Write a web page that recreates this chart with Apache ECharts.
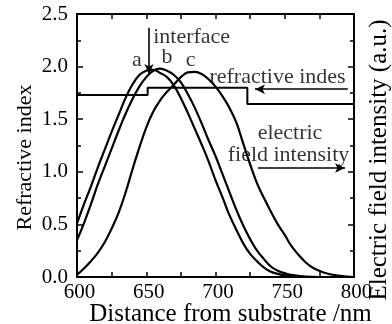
<!DOCTYPE html>
<html>
<head>
<meta charset="utf-8">
<script src="https://cdn.jsdelivr.net/npm/echarts@6/dist/echarts.min.js"></script>
<style>html,body{margin:0;padding:0;background:#fff;}#c{width:392px;height:324px;}</style>
</head>
<body>
<div id="c"></div>
<script>
// ---- data ----
const curveA = [[600,0.51],[605,0.69],[610,0.86],[615,1.04],[620,1.21],[625,1.38],[630,1.54],[635,1.70],[640,1.83],[645,1.92],[650,1.96],[655,1.97],[660,1.94],[665,1.90],[670,1.82],[675,1.70],[680,1.56],[685,1.41],[690,1.26],[695,1.10],[700,0.92],[705,0.76],[710,0.59],[715,0.45],[720,0.32],[725,0.22],[730,0.15],[735,0.09],[740,0.05],[745,0.03],[750,0.015],[755,0.006],[760,0.002],[770,0],[800,0]];
const curveB = [[600,0.35],[605,0.51],[610,0.69],[615,0.88],[620,1.05],[625,1.22],[630,1.39],[635,1.55],[640,1.69],[645,1.81],[650,1.90],[655,1.96],[660,1.98],[665,1.96],[670,1.92],[675,1.85],[680,1.74],[685,1.61],[690,1.46],[695,1.30],[700,1.15],[705,0.98],[710,0.81],[715,0.64],[720,0.49],[725,0.36],[730,0.25],[735,0.17],[740,0.10],[745,0.06],[750,0.035],[755,0.02],[760,0.01],[765,0.003],[775,0],[800,0]];
const curveC = [[600,0.02],[605,0.08],[610,0.15],[615,0.23],[620,0.33],[625,0.46],[630,0.61],[635,0.80],[640,1.02],[645,1.23],[650,1.42],[655,1.57],[660,1.68],[665,1.76],[670,1.83],[675,1.90],[680,1.945],[685,1.95],[690,1.93],[695,1.88],[700,1.81],[705,1.72],[710,1.61],[715,1.47],[720,1.27],[725,1.07],[730,0.89],[735,0.75],[740,0.62],[745,0.50],[750,0.40],[755,0.29],[760,0.21],[765,0.14],[770,0.09],[775,0.06],[780,0.035],[785,0.02],[790,0.01],[795,0.004],[800,0]];
const refIndexX = [600, 651, 651, 723, 723, 800];
const refIndexY = [1.73, 1.73, 1.80, 1.80, 1.645, 1.645];
const xTicks = [600, 650, 700, 750, 800];
const yTicks = [0.0, 0.5, 1.0, 1.5, 2.0, 2.5];
const curveLabels = [[643.3, 2.06, 'a'], [665, 2.09, 'b'], [682, 2.06, 'c']];
const textNotes = [[655, 2.28, 'interface', 'left'], [744.8, 1.90, 'refractive indes', 'center'], [753.8, 1.37, 'electric', 'center'], [752.7, 1.16, 'field intensity', 'center']];
const arrows = [[[652, 2.37], [652, 1.93]], [[795.5, 1.785], [728.5, 1.785]], [[730.7, 1.036], [793.5, 1.036]]];

const FONT = 'Liberation Serif';
const chart = echarts.init(document.getElementById('c'), null, {renderer: 'canvas'});
const axisCommon = {
  type: 'value',
  nameMoveOverlap: false,
  splitLine: {show: false},
  axisLine: {show: true, onZero: false, lineStyle: {color: '#000', width: 2}},
  axisTick: {show: true, inside: true, length: 6, lineStyle: {color: '#000', width: 1.5}},
  minorTick: {show: true, splitNumber: 2, length: 4, lineStyle: {color: '#000', width: 1.5}},
};
const lineSeries = (data) => ({
  type: 'line', data: data, smooth: 0.4, symbol: 'none', xAxisIndex: 0, yAxisIndex: 0,
  lineStyle: {color: '#000', width: 2.2}, z: 3
});
const option = {
  backgroundColor: '#fff',
  animation: false,
  grid: {left: 77, right: 38, top: 14, bottom: 47, containLabel: false, outerBoundsMode: 'none'},
  xAxis: [
    Object.assign({}, axisCommon, {
      position: 'bottom', min: xTicks[0], max: xTicks[xTicks.length-1], interval: 50,
      axisTick: Object.assign({}, axisCommon.axisTick, {length: 5}),
      minorTick: Object.assign({}, axisCommon.minorTick, {length: 5}),
      axisLabel: {color: '#000', fontFamily: FONT, fontSize: 21, margin: 5, padding: [0, 0, 0, 5]},
      name: 'Distance from substrate /nm', nameLocation: 'middle', nameGap: 25,
      nameTextStyle: {color: '#000', fontFamily: FONT, fontSize: 25, padding: [0, 0, 0, 30]}
    }),
    Object.assign({}, axisCommon, {
      position: 'top', min: xTicks[0], max: xTicks[xTicks.length-1], interval: 50,
      axisTick: Object.assign({}, axisCommon.axisTick, {length: 5}),
      minorTick: Object.assign({}, axisCommon.minorTick, {length: 5}),
      axisLabel: {show: false}
    })
  ],
  yAxis: [
    Object.assign({}, axisCommon, {
      position: 'left', min: yTicks[0], max: yTicks[yTicks.length-1], interval: 0.5,
      axisLabel: {color: '#000', fontFamily: FONT, fontSize: 21, margin: 9, formatter: v => v.toFixed(1)},
      name: 'Refractive index', nameLocation: 'middle', nameGap: 41,
      nameTextStyle: {color: '#000', fontFamily: FONT, fontSize: 22, padding: [0, 24, 0, 0]}
    }),
    Object.assign({}, axisCommon, {
      position: 'right', min: yTicks[0], max: yTicks[yTicks.length-1], interval: 0.5,
      axisLabel: {show: false},
      name: 'Electric field intensity (a.u.)', nameLocation: 'middle', nameGap: 13, nameRotate: 90,
      nameTextStyle: {color: '#000', fontFamily: FONT, fontSize: 25, padding: [0, 29, 0, 0]}
    })
  ],
  series: [
    lineSeries(curveA),
    lineSeries(curveB),
    lineSeries(curveC),
    {
      type: 'line', symbol: 'none', xAxisIndex: 0, yAxisIndex: 0, z: 2,
      data: refIndexX.map((x, i) => [x, refIndexY[i]]),
      lineStyle: {color: '#000', width: 2},
      markLine: {
        silent: true, symbol: ['none', 'arrow'], symbolSize: [7, 10],
        lineStyle: {color: '#000', width: 1.6, type: 'solid'},
        label: {show: false},
        data: arrows.map(a => [{coord: a[0]}, {coord: a[1]}])
      }
    },
    {
      type: 'scatter', symbolSize: 0, xAxisIndex: 0, yAxisIndex: 0, z: 5,
      data: curveLabels.map(d => ({value: [d[0], d[1]], name: d[2]})),
      label: {show: true, position: 'inside', formatter: p => p.name, color: '#000', fontFamily: FONT, fontSize: 22}
    },
    {
      type: 'scatter', symbolSize: 0, xAxisIndex: 0, yAxisIndex: 0, z: 5,
      data: textNotes.map(d => ({value: [d[0], d[1]], name: d[2], label: {align: d[3]}})),
      label: {show: true, position: 'inside', formatter: p => p.name, color: '#000', fontFamily: FONT, fontSize: 22}
    }
  ]
};
chart.setOption(option);
</script>
</body>
</html>
